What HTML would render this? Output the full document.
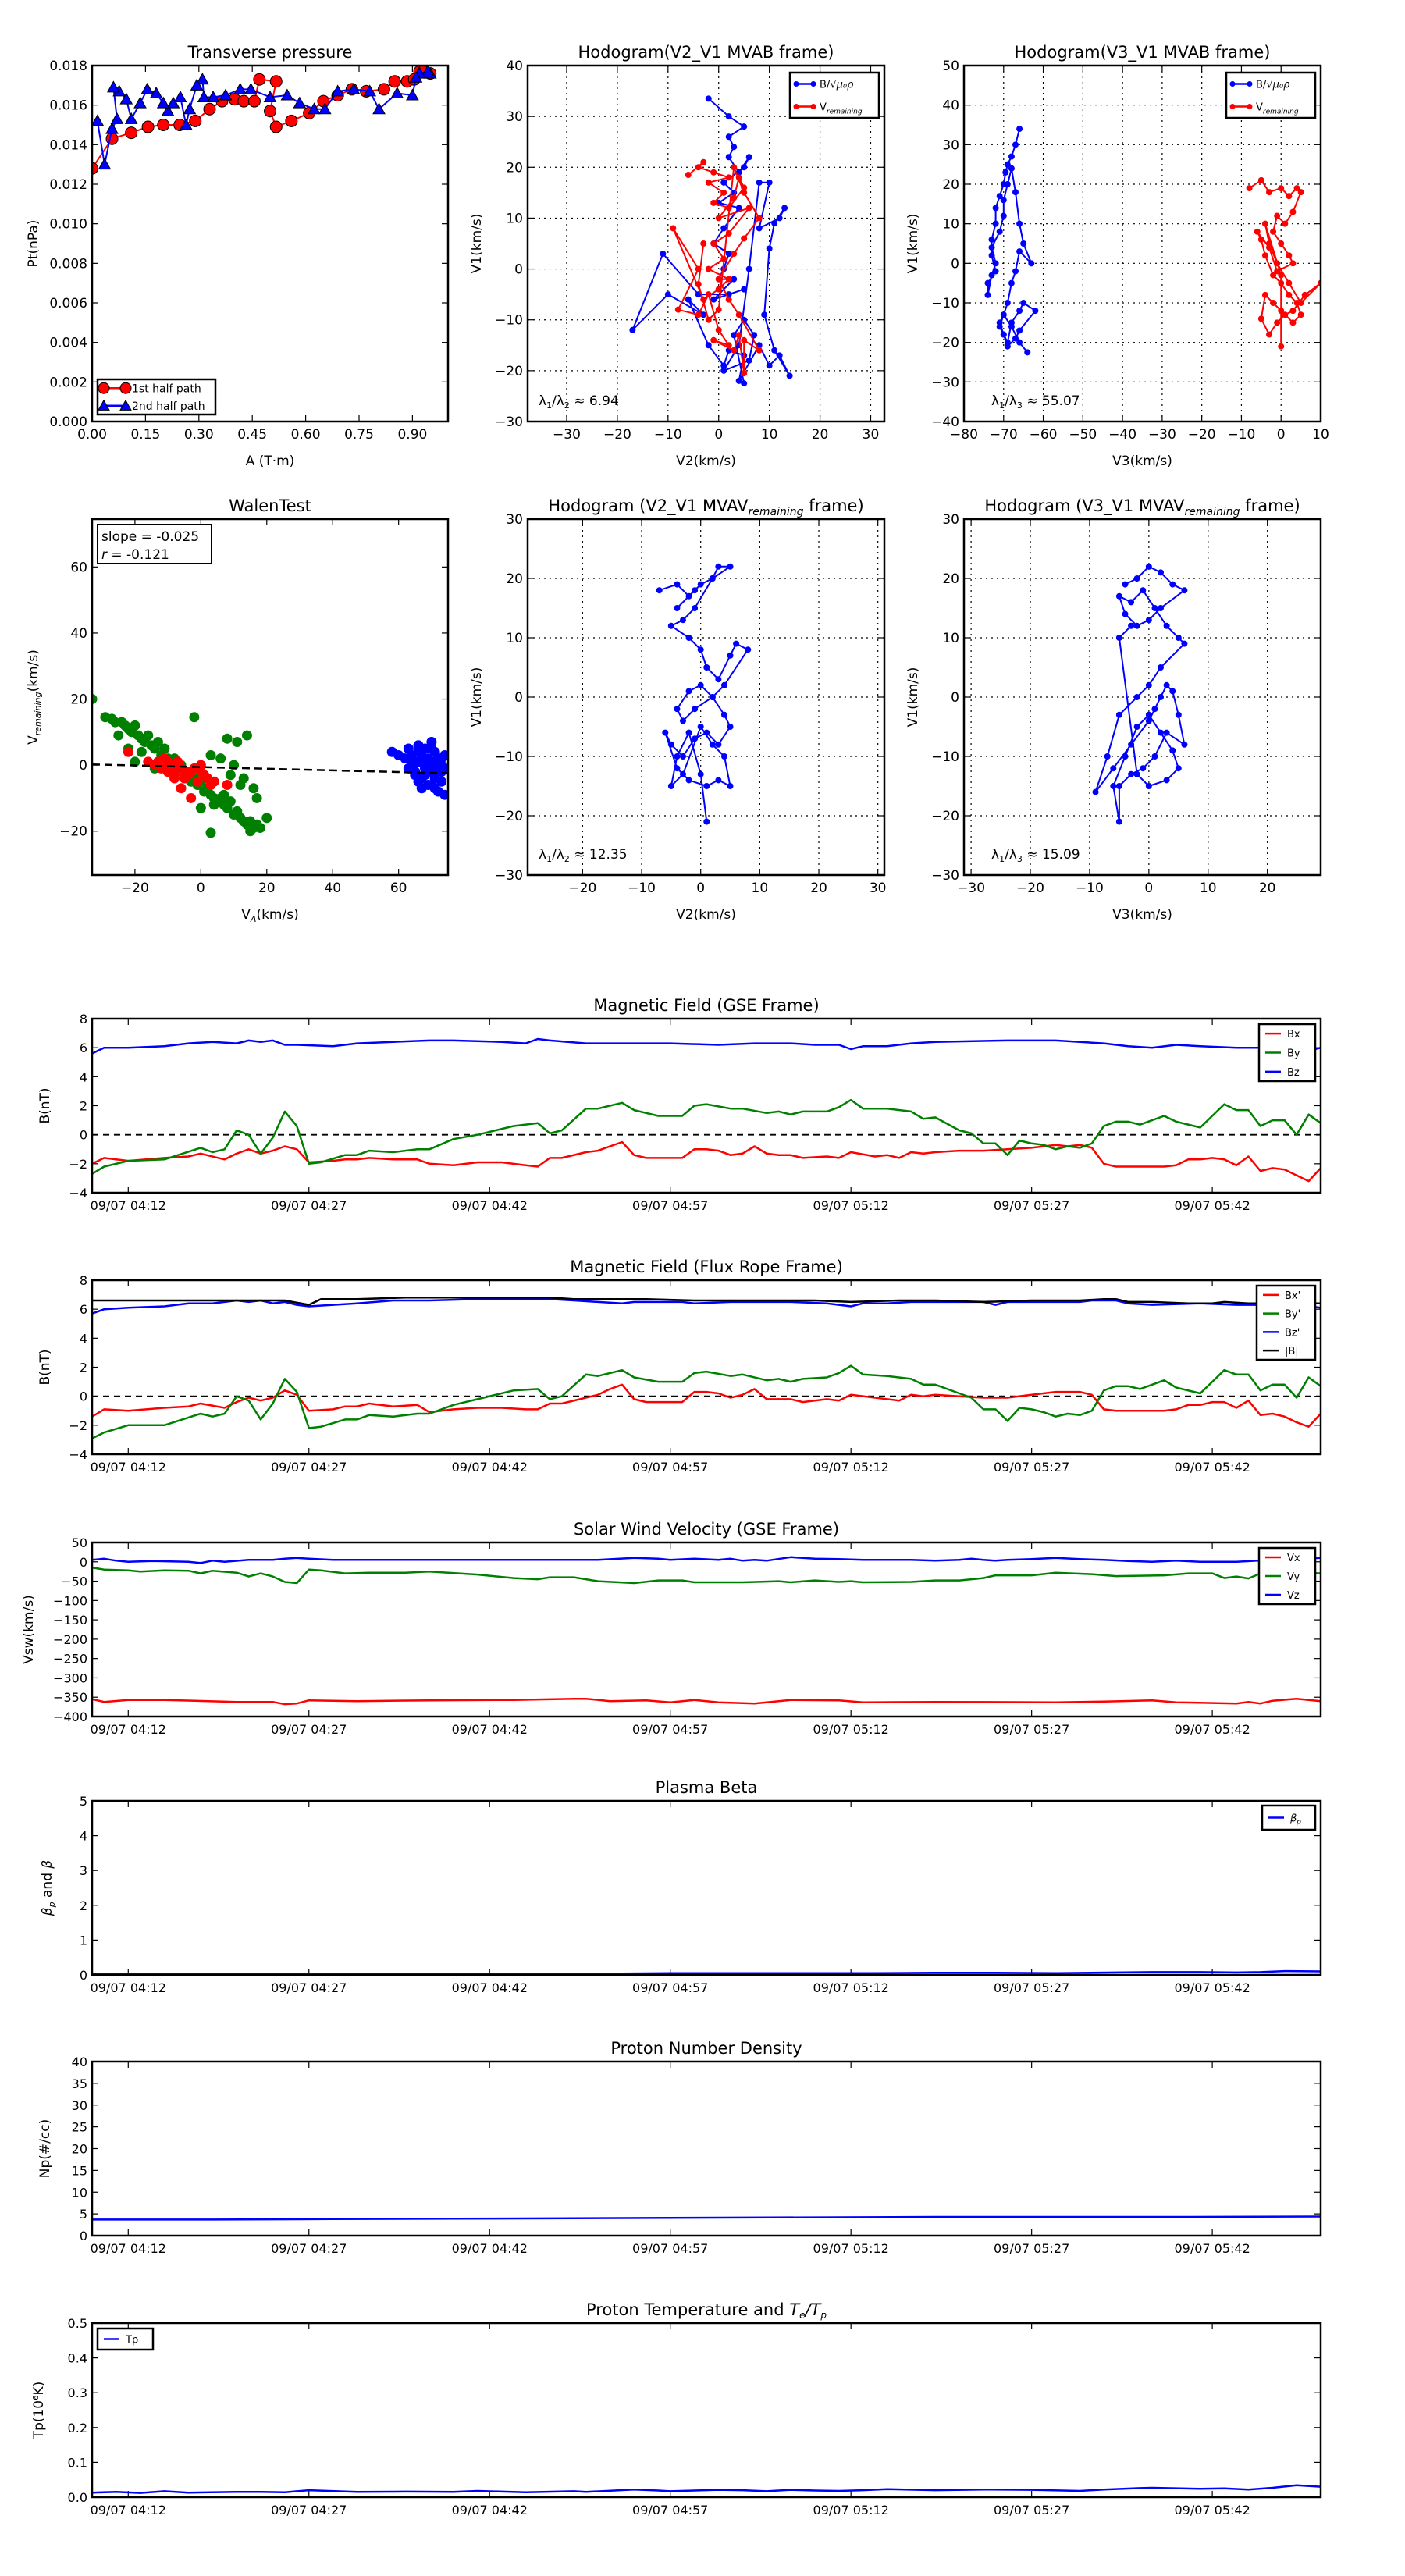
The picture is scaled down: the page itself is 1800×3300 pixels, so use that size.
<!DOCTYPE html>
<html><head><meta charset="utf-8"><style>
html,body{margin:0;padding:0;background:#fff;}
svg{display:block;font-family:"DejaVu Sans","Liberation Sans",sans-serif;}
</style></head><body>
<svg id="fig" xmlns="http://www.w3.org/2000/svg" width="1800" height="3300" viewBox="0 0 1800 3300"></svg>
<script>
// ===== Data =====
// Transverse pressure
const tp1A=[0,0.056,0.11,0.157,0.2,0.246,0.29,0.33,0.365,0.4,0.426,0.456,0.47,0.517,0.5,0.517,0.56,0.61,0.65,0.69,0.73,0.77,0.82,0.85,0.885,0.905,0.92,0.93,0.95];
const tp1P=[0.0128,0.0143,0.0146,0.0149,0.0150,0.0150,0.0152,0.0158,0.0162,0.0163,0.0162,0.0162,0.0173,0.0172,0.0157,0.0149,0.0152,0.0156,0.0162,0.0165,0.0168,0.0167,0.0168,0.0172,0.0172,0.0173,0.0177,0.0177,0.0176];
const tp2A=[0.95,0.943,0.92,0.91,0.9,0.857,0.806,0.78,0.735,0.69,0.654,0.624,0.583,0.548,0.5,0.446,0.416,0.375,0.34,0.314,0.31,0.294,0.274,0.264,0.248,0.228,0.213,0.2,0.18,0.155,0.135,0.11,0.096,0.076,0.06,0.07,0.056,0.035,0.015];
const tp2P=[0.0176,0.0177,0.0176,0.0174,0.0165,0.0166,0.0158,0.0167,0.0168,0.0167,0.0158,0.0158,0.0161,0.0165,0.0164,0.0168,0.0168,0.0165,0.0164,0.0164,0.0173,0.0170,0.0158,0.0150,0.0164,0.0161,0.0157,0.0161,0.0166,0.0168,0.0161,0.0153,0.0163,0.0167,0.0169,0.0153,0.0148,0.0130,0.0152];
// Hodogram V2-V1 MVAB
const h2bx=[-2,2,5,2,3,2,4,6,5,1,3,0,4,1,-1,2,1,0,3,-1,5,2,-4,-11,-17,-10,-3,-6,-2,1,2,5,4,8,10,12,14,11,9,10,11,13,12,8,10,8,6,4,1,6,7,5,3,5];
const h2by=[33.5,30,28,26,24,22,19,22,20,17,15,13,12,8,5,3,0,-2,-2,-6,-4,-5,-5,3,-12,-5,-9,-6,-15,-19,-16,-17,-22,-15,-19,-17,-21,-16,-9,4,9,12,10,8,17,17,0,-15,-20,-18,-13,-10,-13,-22.5];
const h2rx=[-6,-3,-4,-1,2,-2,1,-1,2,5,4,3,0,6,2,-1,1,-2,2,0,-3,-9,-4,-8,-4,-2,0,2,-1,3,4,5,5,8,4,2,0,3,5,8,5,3,0,-2,-4,-3];
const h2ry=[18.5,21,20,19,18,17,15,13,12,16,18,14,10,12,7,5,2,0,-2,-4,-6,8,0,-8,-9,-5,-12,-15,-14,-16,-13,-20.5,-14,-16,-9,-6,-2,3,6,10,15,20,-8,-10,-3,5];
// Hodogram V3-V1 MVAB
const h3bx=[-66,-67,-68,-69,-69.5,-70,-71,-72,-72,-73,-73,-72,-74,-74,-73,-72,-73,-71,-70,-70,-69,-68,-67,-66,-65,-63,-66,-67,-68,-69,-70,-71,-70,-69,-68,-66,-65,-62,-66,-67,-69,-70,-71,-70,-68,-66,-64];
const h3by=[34,30,27,25,23,20,17,14,10,6,2,-2,-5,-8,-3,0,4,8,12,16,20,24,18,10,5,0,3,-2,-5,-10,-13,-16,-18,-20,-15,-12,-10,-12,-17,-19,-21,-18,-15,-13,-16,-20,-22.5];
const h3rx=[-8,-5,-3,0,2,4,5,3,1,-1,-2,0,2,3,-1,-3,-6,-5,-4,-2,0,2,4,5,3,0,-2,-4,-5,-3,-1,1,3,6,10,5,2,-1,-3,-4,0,0];
const h3ry=[19,21,18,19,17,19,18,13,10,12,8,5,2,0,-2,4,8,6,2,-3,-5,-8,-10,-13,-15,-12,-10,-8,-14,-18,-15,-13,-12,-8,-5,-10,-5,0,5,10,-3,-21];
// Walen test
const wgx=[-33,-29,-27,-26,-24,-23,-22,-21,-20,-19,-18,-17,-16,-15,-14,-13,-12,-11,-10,-9,-8,-7,-6,-5,-4,-3,-2,-1,0,1,2,3,4,5,6,7,8,9,10,11,12,13,14,15,16,17,18,20,-2,8,11,14,3,6,10,13,16,17,4,0,-5,-18,-20,-14,15,3,7,9,12,-25,-22];
const wgy=[20,14.5,14,13,13,12,11,10,12,9,8,7,9,6,5,7,3,5,2,1,2,-1,0,-3,-2,-5,-4,-6,-5,-8,-7,-9,-10,-11,-10,-12,-13,-11,-15,-14,-16,-17,-18,-17,-19,-18,-19,-16,14.5,8,7,9,3,2,0,-4,-7,-10,-12,-13,-2,4,1,-1,-20,-20.5,-9,-3,-6,9,5];
const wrx=[-22,-16,-14,-13,-12,-11,-10,-9,-8,-7,-6,-5,-4,-3,-2,-1,0,1,2,3,4,-3,8,-6,-10,-5,0,-8];
const wry=[4,1,0,1,-1,2,-2,0,-3,1,-1,-4,-3,-2,-1,-5,0,-3,-4,-6,-5,-10,-6,-7,1,-2,-2,-4];
const wbx=[58,60,62,63,64,65,66,66,67,67,68,68,69,69,70,70,71,71,72,72,73,73,74,74,65,67,69,71,73,64,66,68,70,72,74,63,68,70,72,66,69,73,71,67,70];
const wby=[4,3,2,5,0,-2,6,1,3,-4,5,-1,2,-6,7,0,-3,4,1,-8,2,-5,-1,3,-3,-7,-2,-4,0,3,-5,1,-6,-2,-9,-1,-3,5,2,4,0,-2,-7,-4,1];
const walenSlope=-0.025, walenIntercept=-0.6;
// Hodogram MVAV
const h5x=[-7,-4,-2,-4,-1,0,2,3,5,2,-1,-3,-5,-2,0,1,3,5,6,8,4,2,-1,-3,-4,-2,0,2,4,5,3,1,-1,-3,-5,-6,-4,-2,1,3,5,4,2,0,-3,-5,-4,-2,0,1];
const h5y=[18,19,17,15,18,19,20,22,22,20,15,13,12,10,8,5,3,7,9,8,2,0,-2,-4,-2,1,2,0,-3,-5,-8,-6,-7,-10,-8,-6,-12,-14,-15,-14,-15,-10,-8,-5,-13,-15,-10,-6,-13,-21];
const h6x=[-4,-2,0,2,4,6,2,0,-2,-4,-5,-3,-1,1,3,5,6,2,0,-2,-5,-7,-9,-6,-3,0,1,2,3,4,5,6,3,1,-1,-3,-5,-5,-6,-4,-2,0,2,4,5,3,0,-2,-5,-3];
const h6y=[19,20,22,21,19,18,15,13,12,14,17,16,18,15,12,10,9,5,2,0,-3,-10,-16,-12,-8,-4,-2,0,2,1,-3,-8,-6,-10,-12,-13,-15,-21,-15,-10,-5,-3,-6,-9,-12,-14,-15,-13,10,12];
// Time series (minutes after 04:09)
const timeTicks=[3,18,33,48,63,78,93];
const timeLabels=['09/07 04:12','09/07 04:27','09/07 04:42','09/07 04:57','09/07 05:12','09/07 05:27','09/07 05:42'];
const bxT=[0,1,3,6,8,9,11,12,13,14,15,16,17,18,20,21,22,23,25,27,28,30,32,34,36,37,38,39,41,42,43,44,45,46,49,50,51,52,53,54,55,56,57,58,59,61,62,63,65,66,67,68,69,70,72,74,76,78,80,81,82,83,84,85,87,89,90,91,92,93,94,95,96,97,98,99,101,102];
const bxV=[-2.0,-1.6,-1.8,-1.6,-1.5,-1.3,-1.7,-1.3,-1.0,-1.3,-1.1,-0.8,-1.0,-1.9,-1.8,-1.7,-1.7,-1.6,-1.7,-1.7,-2.0,-2.1,-1.9,-1.9,-2.1,-2.2,-1.6,-1.6,-1.2,-1.1,-0.8,-0.5,-1.4,-1.6,-1.6,-1.0,-1.0,-1.1,-1.4,-1.3,-0.8,-1.3,-1.4,-1.4,-1.6,-1.5,-1.6,-1.2,-1.5,-1.4,-1.6,-1.2,-1.3,-1.2,-1.1,-1.1,-1.0,-0.9,-0.7,-0.8,-0.7,-0.9,-2.0,-2.2,-2.2,-2.2,-2.1,-1.7,-1.7,-1.6,-1.7,-2.1,-1.5,-2.5,-2.3,-2.4,-3.2,-2.3];
const byT=[0,1,3,6,9,10,11,12,13,14,15,16,17,18,19,21,22,23,25,27,28,30,32,35,37,38,39,41,42,44,45,47,49,50,51,53,54,56,57,58,59,61,62,63,64,66,68,69,70,72,73,74,75,76,77,78,79,80,81,82,83,84,85,86,87,88,89,90,92,93,94,95,96,97,98,99,100,101,102];
const byV=[-2.7,-2.2,-1.8,-1.7,-0.9,-1.2,-1.0,0.3,0.0,-1.3,-0.2,1.6,0.6,-2.0,-1.9,-1.4,-1.4,-1.1,-1.2,-1.0,-1.0,-0.3,0.0,0.6,0.8,0.1,0.3,1.8,1.8,2.2,1.7,1.3,1.3,2.0,2.1,1.8,1.8,1.5,1.6,1.4,1.6,1.6,1.9,2.4,1.8,1.8,1.6,1.1,1.2,0.3,0.1,-0.6,-0.6,-1.4,-0.4,-0.6,-0.7,-1.0,-0.8,-0.9,-0.6,0.6,0.9,0.9,0.7,1.0,1.3,0.9,0.5,1.3,2.1,1.7,1.7,0.6,1.0,1.0,0.0,1.4,0.8];
const bzT=[0,1,3,6,8,10,12,13,14,15,16,17,20,22,25,28,30,34,36,37,38,41,45,48,52,55,58,60,62,63,64,66,68,70,76,78,80,84,86,88,90,92,95,98,99,101,102];
const bzV=[5.6,6.0,6.0,6.1,6.3,6.4,6.3,6.5,6.4,6.5,6.2,6.2,6.1,6.3,6.4,6.5,6.5,6.4,6.3,6.6,6.5,6.3,6.3,6.3,6.2,6.3,6.3,6.2,6.2,5.9,6.1,6.1,6.3,6.4,6.5,6.5,6.5,6.3,6.1,6.0,6.2,6.1,6.0,6.0,5.9,5.8,6.0];
const fxT=[0,1,3,6,8,9,11,12,13,14,15,16,17,18,20,21,22,23,25,27,28,30,32,34,36,37,38,39,41,42,43,44,45,46,49,50,51,52,53,54,55,56,57,58,59,61,62,63,65,66,67,68,69,70,72,74,76,78,80,82,83,84,85,87,89,90,91,92,93,94,95,96,97,98,99,100,101,102];
const fxV=[-1.4,-0.9,-1.0,-0.8,-0.7,-0.5,-0.8,-0.4,-0.1,-0.3,-0.1,0.4,0.1,-1.0,-0.9,-0.7,-0.7,-0.5,-0.7,-0.6,-1.1,-0.9,-0.8,-0.8,-0.9,-0.9,-0.5,-0.5,-0.1,0.1,0.5,0.8,-0.2,-0.4,-0.4,0.3,0.3,0.2,-0.1,0.1,0.5,-0.2,-0.2,-0.2,-0.4,-0.2,-0.3,0.1,-0.1,-0.2,-0.3,0.1,0.0,0.1,0.0,-0.1,-0.1,0.1,0.3,0.3,0.1,-0.9,-1.0,-1.0,-1.0,-0.9,-0.6,-0.6,-0.4,-0.4,-0.8,-0.3,-1.3,-1.2,-1.4,-1.8,-2.1,-1.2];
const fyT=[0,1,3,6,9,10,11,12,13,14,15,16,17,18,19,21,22,23,25,27,28,30,32,35,37,38,39,41,42,44,45,47,49,50,51,53,54,56,57,58,59,61,62,63,64,66,68,69,70,72,73,74,75,76,77,78,79,80,81,82,83,84,85,86,87,88,89,90,92,93,94,95,96,97,98,99,100,101,102];
const fyV=[-2.9,-2.5,-2.0,-2.0,-1.2,-1.4,-1.2,0.0,-0.3,-1.6,-0.5,1.2,0.3,-2.2,-2.1,-1.6,-1.6,-1.3,-1.4,-1.2,-1.2,-0.6,-0.2,0.4,0.5,-0.2,0.0,1.5,1.4,1.8,1.3,1.0,1.0,1.6,1.7,1.4,1.5,1.1,1.2,1.0,1.2,1.3,1.6,2.1,1.5,1.4,1.2,0.8,0.8,0.2,-0.1,-0.9,-0.9,-1.7,-0.8,-0.9,-1.1,-1.4,-1.2,-1.3,-1.0,0.4,0.7,0.7,0.5,0.8,1.1,0.6,0.2,1.0,1.8,1.5,1.5,0.4,0.8,0.8,-0.1,1.3,0.7];
const fzT=[0,1,3,6,8,10,12,13,14,15,16,17,18,20,22,25,28,32,36,38,40,42,44,45,49,50,53,56,58,61,63,64,66,68,70,74,75,76,79,82,83,85,86,88,92,95,97,100,102];
const fzV=[5.7,6.0,6.1,6.2,6.4,6.4,6.6,6.5,6.6,6.4,6.5,6.3,6.2,6.3,6.4,6.6,6.6,6.7,6.7,6.7,6.6,6.5,6.4,6.5,6.5,6.4,6.5,6.5,6.5,6.4,6.2,6.4,6.4,6.5,6.5,6.5,6.3,6.5,6.5,6.5,6.6,6.6,6.4,6.3,6.4,6.3,6.3,6.3,6.1];
const fbT=[0,3,6,9,14,16,18,19,22,26,30,34,38,40,46,50,56,60,63,67,70,74,78,82,84,85,86,88,91,93,94,96,102];
const fbV=[6.6,6.6,6.6,6.6,6.6,6.6,6.3,6.7,6.7,6.8,6.8,6.8,6.8,6.7,6.7,6.6,6.6,6.6,6.5,6.6,6.6,6.5,6.6,6.6,6.7,6.7,6.5,6.5,6.4,6.4,6.5,6.4,6.4];
const vxT=[0,1,3,6,12,15,16,17,18,22,28,35,40,41,43,46,48,50,52,55,58,62,64,70,80,84,88,90,95,96,97,98,100,102];
const vxV=[-355,-362,-357,-357,-362,-362,-368,-366,-358,-360,-358,-357,-354,-354,-360,-358,-363,-357,-363,-366,-357,-358,-363,-362,-363,-361,-358,-363,-366,-362,-366,-359,-354,-360];
const vyT=[0,1,3,4,6,8,9,10,12,13,14,15,16,17,18,19,21,23,26,28,32,35,37,38,40,42,45,47,49,50,54,57,58,60,62,63,64,68,70,72,74,75,78,80,83,85,89,91,93,94,95,96,97,99,102];
const vyV=[-15,-20,-22,-25,-22,-23,-30,-23,-28,-38,-30,-38,-52,-55,-20,-22,-30,-28,-28,-25,-33,-42,-45,-40,-40,-50,-55,-48,-48,-53,-53,-50,-53,-48,-52,-50,-53,-52,-48,-48,-42,-35,-35,-28,-32,-37,-35,-30,-30,-42,-38,-43,-30,-25,-30];
const vzT=[0,1,2,3,5,8,9,10,11,13,15,16,17,18,20,25,30,35,40,42,45,47,48,50,52,53,54,55,56,58,60,62,64,68,70,72,73,74,75,76,78,80,82,84,86,88,90,92,95,98,100,102];
const vzV=[5,8,3,0,2,0,-3,3,0,5,5,8,10,8,5,5,5,5,5,5,10,8,5,8,5,8,3,5,3,12,8,7,5,5,3,5,8,5,3,5,7,10,7,5,2,0,3,0,0,5,7,10];
const betaT=[0,6,10,14,17,20,26,30,33,36,40,44,48,52,56,60,65,70,75,80,85,88,92,95,97,99,102];
const betaV=[0.02,0.02,0.03,0.02,0.04,0.03,0.03,0.02,0.03,0.03,0.04,0.04,0.05,0.05,0.05,0.05,0.05,0.06,0.06,0.05,0.07,0.08,0.08,0.07,0.08,0.11,0.1];
const npT=[0,10,20,30,40,50,60,70,80,90,102];
const npV=[3.7,3.7,3.8,3.9,4.0,4.1,4.2,4.3,4.3,4.3,4.4];
const tpT=[0,2,4,6,8,12,14,16,18,22,26,30,32,36,40,41,45,47,48,52,54,56,58,60,62,64,66,70,74,78,82,84,87,88,92,94,96,98,100,102];
const tpV=[0.013,0.015,0.012,0.017,0.013,0.015,0.015,0.014,0.020,0.015,0.016,0.015,0.018,0.014,0.017,0.015,0.022,0.019,0.017,0.021,0.020,0.017,0.021,0.019,0.018,0.020,0.023,0.020,0.022,0.021,0.018,0.022,0.026,0.027,0.024,0.025,0.022,0.027,0.034,0.030];

// ===== Drawing helpers =====
const NS='http://www.w3.org/2000/svg';
const svg=document.getElementById('fig');
function el(tag,attrs,parent){const e=document.createElementNS(NS,tag);for(const k in attrs)e.setAttribute(k,attrs[k]);(parent||svg).appendChild(e);return e;}
function lin(d0,d1,r0,r1){return v=>r0+(v-d0)*(r1-r0)/(d1-d0);}
let clipId=0;
function axes(o){
  const g=el('g',{});
  
  
  const sx=lin(o.xd[0],o.xd[1],o.x0,o.x1), sy=lin(o.yd[0],o.yd[1],o.y1,o.y0);
  if(o.grid){
    o.xticks.forEach(t=>{const x=sx(t);if(x>o.x0+1&&x<o.x1-1)el('line',{x1:x,x2:x,y1:o.y0,y2:o.y1,stroke:'#000','stroke-width':1.2,'stroke-dasharray':'2,5'},g);});
    o.yticks.forEach(t=>{const y=sy(t);if(y>o.y0+1&&y<o.y1-1)el('line',{x1:o.x0,x2:o.x1,y1:y,y2:y,stroke:'#000','stroke-width':1.2,'stroke-dasharray':'2,5'},g);});
  }
  const tl=8;
  const xt=el('g',{},g);
  
  
  o.xticks.forEach((t,i)=>{const x=sx(t);
    el('line',{x1:x,x2:x,y1:o.y1,y2:o.y1-tl,stroke:'#000','stroke-width':1.2},xt);
    el('line',{x1:x,x2:x,y1:o.y0,y2:o.y0+tl,stroke:'#000','stroke-width':1.2},xt);
    const tx=el('text',{x:x,y:o.y1+22,'font-size':o.fs||17,'text-anchor':'middle'},xt);tx.textContent=o.xlabels[i];});
  const yt=el('g',{},g);
  
  
  o.yticks.forEach((t,i)=>{const y=sy(t);
    el('line',{x1:o.x0,x2:o.x0+tl,y1:y,y2:y,stroke:'#000','stroke-width':1.2},yt);
    el('line',{x1:o.x1,x2:o.x1-tl,y1:y,y2:y,stroke:'#000','stroke-width':1.2},yt);
    const tx=el('text',{x:o.x0-6,y:y+6,'font-size':o.fs||17,'text-anchor':'end'},yt);tx.textContent=o.ylabels[i];});
  clipId++;
  const cp=el('clipPath',{id:'c'+clipId},g);el('rect',{x:o.x0,y:o.y0,width:o.x1-o.x0,height:o.y1-o.y0},cp);
  const plot=el('g',{'clip-path':'url(#c'+clipId+')'},g);
  
  
  const fr=el('rect',{x:o.x0,y:o.y0,width:o.x1-o.x0,height:o.y1-o.y0,fill:'none',stroke:'#000','stroke-width':2.5},g);
  
  
  if(o.title){const t=el('text',{x:(o.x0+o.x1)/2,y:o.y0-10,'font-size':21,'text-anchor':'middle'},g);t.innerHTML=o.title;
    }
  if(o.xlabel){const t=el('text',{x:(o.x0+o.x1)/2,y:o.y1+56,'font-size':17,'text-anchor':'middle'},g);t.innerHTML=o.xlabel;
    }
  if(o.ylabel){const yx=o.ylx,yy=(o.y0+o.y1)/2;const t=el('text',{x:yx,y:yy,'font-size':17,'text-anchor':'middle',transform:'rotate(-90 '+yx+' '+yy+')'},g);t.innerHTML=o.ylabel;
    }
  return {sx,sy,plot,g,o};
}
function line(a,xs,ys,color,w,name,dash){
  const n=Math.min(xs.length,ys.length);let p='';
  for(let i=0;i<n;i++)p+=(i?'L':'M')+a.sx(xs[i]).toFixed(1)+','+a.sy(ys[i]).toFixed(1);
  const e=el('path',{d:p,fill:'none',stroke:color,'stroke-width':w||2.5,'stroke-linejoin':'round'},a.plot);
  if(dash)e.setAttribute('stroke-dasharray',dash);
  
  
  return e;
}
function dots(a,xs,ys,color,r,name,stroke){
  const g=el('g',{},a.plot);
  
  
  const n=Math.min(xs.length,ys.length);
  for(let i=0;i<n;i++){const c=el('circle',{cx:a.sx(xs[i]),cy:a.sy(ys[i]),r:r,fill:color},g);
    if(stroke){c.setAttribute('stroke','#000');c.setAttribute('stroke-width',1);}
    
    }
}
function tris(a,xs,ys,color,s,name){
  const g=el('g',{},a.plot);
  
  
  const n=Math.min(xs.length,ys.length);
  for(let i=0;i<n;i++){const x=a.sx(xs[i]),y=a.sy(ys[i]);
    const t=el('polygon',{points:`${x},${y-s} ${x-s},${y+s*0.8} ${x+s},${y+s*0.8}`,fill:color,stroke:'#000','stroke-width':1},g);
    
    }
}
function legend(x,y,w,h,entries,name,fs){
  const g=el('g',{});
  
  
  el('rect',{x:x,y:y,width:w,height:h,fill:'#fff',stroke:'#000','stroke-width':2.5},g);
  const step=h/entries.length;
  entries.forEach((e,i)=>{const cy=y+step*(i+0.5);
    const eg=el('g',{},g);
    
    
    el('line',{x1:x+8,x2:x+8+e.len,y1:cy,y2:cy,stroke:e.color,'stroke-width':2.5},eg);
    if(e.marker==='o'){el('circle',{cx:x+8,cy:cy,r:e.r,fill:e.color,stroke:'#000','stroke-width':1},eg);el('circle',{cx:x+8+e.len,cy:cy,r:e.r,fill:e.color,stroke:'#000','stroke-width':1},eg);}
    if(e.marker==='^'){[x+8,x+8+e.len].forEach(px=>el('polygon',{points:`${px},${cy-e.r} ${px-e.r},${cy+e.r*0.8} ${px+e.r},${cy+e.r*0.8}`,fill:e.color,stroke:'#000','stroke-width':1},eg));}
    if(e.marker==='.'){[x+8,x+8+e.len].forEach(px=>el('circle',{cx:px,cy:cy,r:3.5,fill:e.color},eg));}
    const t=el('text',{x:x+16+e.len,y:cy+5,'font-size':fs||15},eg);t.innerHTML=e.label;});
}
function txt(x,y,s,fs,name,anchor){const t=el('text',{x:x,y:y,'font-size':fs,'text-anchor':anchor||'start'});t.innerHTML=s;
  return t;}
const range=(a,b,s)=>{const r=[];for(let v=a;v<=b+1e-9;v+=s)r.push(+v.toFixed(6));return r;};

// ===== Row 1 =====
const yl=range(0,0.018,0.002);
const a1=axes({name:'transverse-pressure',x0:118,x1:574,y0:84,y1:540,xd:[0,1.0],yd:[0,0.018],
  xticks:[0,0.15,0.3,0.45,0.6,0.75,0.9],xlabels:['0.00','0.15','0.30','0.45','0.60','0.75','0.90'],
  yticks:yl,ylabels:yl.map(v=>v.toFixed(3)),title:'Transverse pressure',xlabel:'A (T·m)',ylabel:'Pt(nPa)',ylx:48});
line(a1,tp1A,tp1P,'#f00',2,'first-half-path-line');
dots(a1,tp1A,tp1P,'#f00',7.5,'first-half-path-markers',true);
line(a1,tp2A,tp2P,'#00f',2,'second-half-path-line');
tris(a1,tp2A,tp2P,'#00f',7.5,'second-half-path-markers');
legend(125,486,151,45,[{color:'#f00',marker:'o',r:7,len:28,label:'1st half path'},{color:'#00f',marker:'^',r:7,len:28,label:'2nd half path'}],'pressure-legend',14);

const hx2=range(-30,30,10), hy2=range(-30,40,10);
const a2=axes({name:'hodogram-v2-v1-mvab',x0:676,x1:1133,y0:84,y1:540,xd:[-37.7,32.7],yd:[-30,40],grid:true,
  xticks:hx2,xlabels:hx2.map(v=>v<0?'−'+(-v):''+v),yticks:hy2,ylabels:hy2.map(v=>v<0?'−'+(-v):''+v),
  title:'Hodogram(V2_V1 MVAB frame)',xlabel:'V2(km/s)',ylabel:'V1(km/s)',ylx:616});
line(a2,h2bx,h2by,'#00f',2,'b-alfven-trace');dots(a2,h2bx,h2by,'#00f',4,'b-alfven-points');
line(a2,h2rx,h2ry,'#f00',2,'v-remaining-trace');dots(a2,h2rx,h2ry,'#f00',4,'v-remaining-points');
legend(1012,93,114,58,[{color:'#00f',marker:'.',len:22,label:'B/<tspan font-style="italic">√μ₀ρ</tspan>'},{color:'#f00',marker:'.',len:22,label:'V<tspan font-size="9" font-style="italic" dy="4">remaining</tspan>'}],'hodogram-mvab-legend',13);
txt(690,519,'λ<tspan font-size="11" dy="4">1</tspan><tspan dy="-4">/λ</tspan><tspan font-size="11" dy="4">2</tspan><tspan dy="-4"> ≈ 6.94</tspan>',17,'eigenvalue-ratio-label');

const hx3=range(-80,10,10), hy3=range(-40,50,10);
const a3=axes({name:'hodogram-v3-v1-mvab',x0:1235,x1:1692,y0:84,y1:540,xd:[-80,10],yd:[-40,50],grid:true,
  xticks:hx3,xlabels:hx3.map(v=>v<0?'−'+(-v):''+v),yticks:hy3,ylabels:hy3.map(v=>v<0?'−'+(-v):''+v),
  title:'Hodogram(V3_V1 MVAB frame)',xlabel:'V3(km/s)',ylabel:'V1(km/s)',ylx:1175});
line(a3,h3bx,h3by,'#00f',2,'b-alfven-trace');dots(a3,h3bx,h3by,'#00f',4,'b-alfven-points');
line(a3,h3rx,h3ry,'#f00',2,'v-remaining-trace');dots(a3,h3rx,h3ry,'#f00',4,'v-remaining-points');
legend(1571,93,114,58,[{color:'#00f',marker:'.',len:22,label:'B/<tspan font-style="italic">√μ₀ρ</tspan>'},{color:'#f00',marker:'.',len:22,label:'V<tspan font-size="9" font-style="italic" dy="4">remaining</tspan>'}],'hodogram-mvab-v3-legend',13);
txt(1270,519,'λ<tspan font-size="11" dy="4">1</tspan><tspan dy="-4">/λ</tspan><tspan font-size="11" dy="4">3</tspan><tspan dy="-4"> ≈ 55.07</tspan>',17,'eigenvalue-ratio-label');

// ===== Row 2 =====
const wx=[-20,0,20,40,60], wy=[-20,0,20,40,60];
const a4=axes({name:'walen-test',x0:118,x1:574,y0:665,y1:1121,xd:[-33,75],yd:[-33.3,74.5],
  xticks:wx,xlabels:wx.map(v=>v<0?'−'+(-v):''+v),yticks:wy,ylabels:wy.map(v=>v<0?'−'+(-v):''+v),
  title:'WalenTest',xlabel:'V<tspan font-size="11" font-style="italic" dy="4">A</tspan><tspan dy="-4">(km/s)</tspan>',ylabel:'V<tspan font-size="11" font-style="italic" dy="4">remaining</tspan><tspan dy="-4">(km/s)</tspan>',ylx:48});
dots(a4,wgx,wgy,'#008000',6.5,'walen-green-points');
dots(a4,wrx,wry,'#f00',6.5,'walen-red-points');
dots(a4,wbx,wby,'#00f',6.5,'walen-blue-points');
const fitX=[-33,75];
line(a4,fitX,fitX.map(v=>walenSlope*v+walenIntercept),'#000',2.5,'walen-fit-line','10,6');
const wb=el('g',{});
el('rect',{x:125,y:672,width:146,height:50,fill:'#fff',stroke:'#000','stroke-width':2},wb);
el('text',{x:130,y:693,'font-size':17},wb).textContent='slope = -0.025';
el('text',{x:130,y:716,'font-size':17},wb).innerHTML='<tspan font-style="italic">r</tspan> = -0.121';

const mx5=range(-20,30,10), my5=range(-30,30,10);
const a5=axes({name:'hodogram-v2-v1-mvav',x0:676,x1:1133,y0:665,y1:1121,xd:[-29.3,31.1],yd:[-30,30],grid:true,
  xticks:mx5,xlabels:mx5.map(v=>v<0?'−'+(-v):''+v),yticks:my5,ylabels:my5.map(v=>v<0?'−'+(-v):''+v),
  title:'Hodogram (V2_V1 MVAV<tspan font-size="14" font-style="italic" dy="5">remaining</tspan><tspan dy="-5"> frame)</tspan>',xlabel:'V2(km/s)',ylabel:'V1(km/s)',ylx:616});
line(a5,h5x,h5y,'#00f',2,'mvav-trace');dots(a5,h5x,h5y,'#00f',4,'mvav-points');
txt(690,1100,'λ<tspan font-size="11" dy="4">1</tspan><tspan dy="-4">/λ</tspan><tspan font-size="11" dy="4">2</tspan><tspan dy="-4"> ≈ 12.35</tspan>',17,'eigenvalue-ratio-label');

const mx6=range(-30,20,10);
const a6=axes({name:'hodogram-v3-v1-mvav',x0:1235,x1:1692,y0:665,y1:1121,xd:[-31.2,29],yd:[-30,30],grid:true,
  xticks:mx6,xlabels:mx6.map(v=>v<0?'−'+(-v):''+v),yticks:my5,ylabels:my5.map(v=>v<0?'−'+(-v):''+v),
  title:'Hodogram (V3_V1 MVAV<tspan font-size="14" font-style="italic" dy="5">remaining</tspan><tspan dy="-5"> frame)</tspan>',xlabel:'V3(km/s)',ylabel:'V1(km/s)',ylx:1175});
line(a6,h6x,h6y,'#00f',2,'mvav-trace');dots(a6,h6x,h6y,'#00f',4,'mvav-points');
txt(1270,1100,'λ<tspan font-size="11" dy="4">1</tspan><tspan dy="-4">/λ</tspan><tspan font-size="11" dy="4">3</tspan><tspan dy="-4"> ≈ 15.09</tspan>',17,'eigenvalue-ratio-label');

// ===== Time series =====
function ts(name,top,yd,yticks,ylabels,title,ylabel,ylx){
  return axes({name:name,x0:118,x1:1692,y0:top,y1:top+223,xd:[0,102],yd:yd,xticks:timeTicks,xlabels:timeLabels,
    yticks:yticks,ylabels:ylabels,title:title,ylabel:ylabel,ylx:ylx,fs:16});
}
const bt=range(-4,8,2);
const s1=ts('magnetic-field-gse',1305,[-4,8],bt,bt.map(v=>v<0?'−'+(-v):''+v),'Magnetic Field (GSE Frame)','B(nT)',63);
line(s1,[0,102],[0,0],'#000',1.8,'zero-line','8,6');
line(s1,bxT,bxV,'#f00',2.5,'bx-line');line(s1,byT,byV,'#008000',2.5,'by-line');line(s1,bzT,bzV,'#00f',2.5,'bz-line');
legend(1613,1312,72,73,[{color:'#f00',len:20,label:'Bx'},{color:'#008000',len:20,label:'By'},{color:'#00f',len:20,label:'Bz'}],'gse-b-legend',13);

const s2=ts('magnetic-field-flux-rope',1640,[-4,8],bt,bt.map(v=>v<0?'−'+(-v):''+v),'Magnetic Field (Flux Rope Frame)','B(nT)',63);
line(s2,[0,102],[0,0],'#000',1.8,'zero-line','8,6');
line(s2,fxT,fxV,'#f00',2.5,'bx-prime-line');line(s2,fyT,fyV,'#008000',2.5,'by-prime-line');
line(s2,fzT,fzV,'#00f',2.5,'bz-prime-line');line(s2,fbT,fbV,'#000',2.5,'b-magnitude-line');
legend(1610,1647,75,95,[{color:'#f00',len:20,label:"Bx'"},{color:'#008000',len:20,label:"By'"},{color:'#00f',len:20,label:"Bz'"},{color:'#000',len:20,label:'|B|'}],'flux-rope-b-legend',13);

const vt=range(-400,50,50);
const s3=ts('solar-wind-velocity',1976,[-400,50],vt,vt.map(v=>v<0?'−'+(-v):''+v),'Solar Wind Velocity (GSE Frame)','Vsw(km/s)',42);
line(s3,vxT,vxV,'#f00',2.5,'vx-line');line(s3,vyT,vyV,'#008000',2.5,'vy-line');line(s3,vzT,vzV,'#00f',2.5,'vz-line');
legend(1613,1983,72,72,[{color:'#f00',len:20,label:'Vx'},{color:'#008000',len:20,label:'Vy'},{color:'#00f',len:20,label:'Vz'}],'velocity-legend',13);

const bet=range(0,5,1);
const s4=ts('plasma-beta',2307,[0,5],bet,bet.map(v=>''+v),'Plasma Beta','<tspan font-style="italic">β<tspan font-size="11" dy="4">p</tspan></tspan><tspan dy="-4"> and </tspan><tspan font-style="italic">β</tspan>',66);
line(s4,betaT,betaV,'#00f',2.5,'beta-p-line');
legend(1617,2313,68,31,[{color:'#00f',len:20,label:'<tspan font-style="italic">β<tspan font-size="9" dy="3">p</tspan></tspan>'}],'beta-legend',13);

const npt=range(0,40,5);
const s5=ts('proton-number-density',2641,[0,40],npt,npt.map(v=>''+v),'Proton Number Density','Np(#/cc)',63);
line(s5,npT,npV,'#00f',2.5,'np-line');

const tpt=range(0,0.5,0.1);
const s6=ts('proton-temperature',2976,[0,0.5],tpt,tpt.map(v=>v.toFixed(1)),'Proton Temperature and <tspan font-style="italic">T<tspan font-size="12" dy="4">e</tspan><tspan dy="-4">/T</tspan><tspan font-size="12" dy="4">p</tspan></tspan>','Tp(10<tspan font-size="10" dy="-6">6</tspan><tspan dy="6">K)</tspan>',55);
line(s6,tpT,tpV,'#00f',2.5,'tp-line');
legend(125,2983,71,27,[{color:'#00f',len:20,label:'Tp'}],'tp-legend',13);
</script>
</body></html>
